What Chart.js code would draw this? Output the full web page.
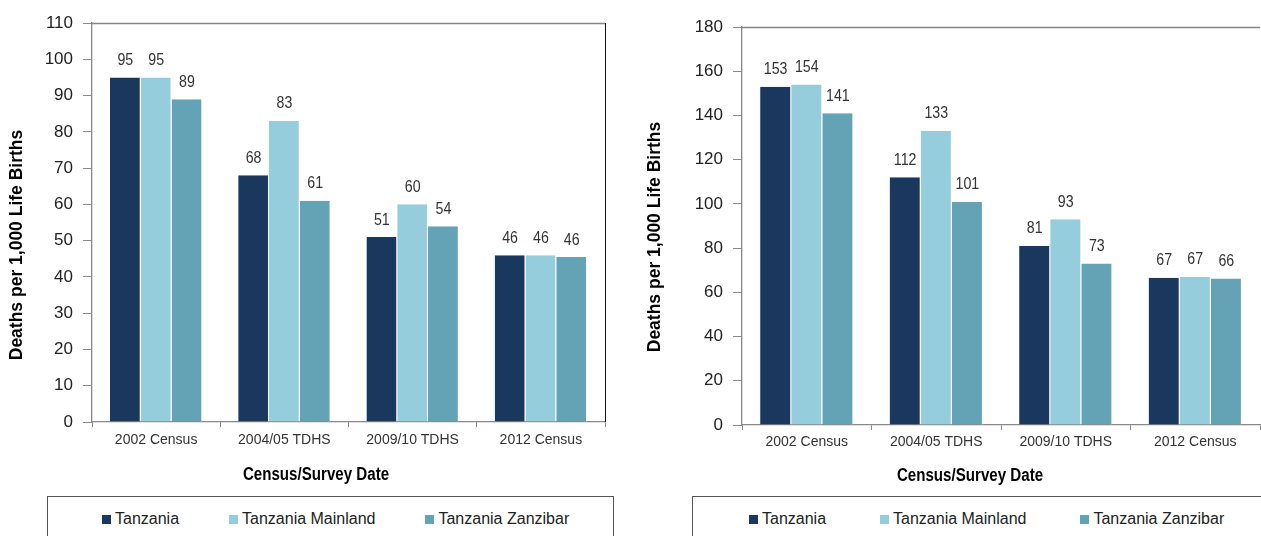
<!DOCTYPE html>
<html><head><meta charset="utf-8">
<script src="https://cdn.jsdelivr.net/npm/chart.js@4.4.1/dist/chart.umd.min.js"></script>
<style>
html,body{margin:0;padding:0;background:#fff;overflow:hidden;width:1261px;height:536px;}
#wrap{position:relative;width:1261px;height:536px;overflow:hidden;}
.cv{position:absolute;top:0;height:536px;}
.legend{position:absolute;box-sizing:border-box;border:1px solid #555;background:#fff;height:60px;display:flex;align-items:flex-start;}
.row{display:flex;align-items:center;height:44px;}
.item{display:flex;align-items:center;font-family:'Liberation Sans',Arial,sans-serif;font-size:16px;color:#222;white-space:nowrap;}
.sw{width:9px;height:9px;margin-right:4px;}
</style></head>
<body><div id="wrap">
<div class="cv" style="left:0;width:630px;"><canvas id="c1"></canvas></div>
<div class="cv" style="left:630px;width:631px;"><canvas id="c2"></canvas></div>
<div class="legend" id="lg1" style="left:47px;top:496px;width:567px;padding-left:54px;"><div class="row"></div></div>
<div class="legend" id="lg2" style="left:692px;top:496px;width:620px;padding-left:56px;"><div class="row"></div></div>
</div>
<script>
// ---- data ----
const categories = ['2002 Census', '2004/05 TDHS', '2009/10 TDHS', '2012 Census'];
const seriesNames = ['Tanzania', 'Tanzania Mainland', 'Tanzania Zanzibar'];
const leftTanzania = [95, 68, 51, 46];
const leftMainland = [95, 83, 60, 46];
const leftZanzibar = [89, 61, 54, 45.5];
const rightTanzania = [153, 112, 81, 66.6];
const rightMainland = [154, 133, 93, 67];
const rightZanzibar = [141, 101, 73, 66.2];
const leftTicks = {min: 0, max: 110, step: 10};
const rightTicks = {min: 0, max: 180, step: 20};
const yTitle = 'Deaths per 1,000 Life Births';
const xTitle = 'Census/Survey Date';

// ---- styles ----
const colors = ['#1a375e', '#95cddd', '#63a3b5'];
const SANS = "'Liberation Sans',Arial,sans-serif";

function condensedText(ctx, text, x, y, sx) {
  ctx.save();
  ctx.translate(x, y);
  ctx.scale(sx, 1);
  ctx.fillText(text, 0, 0);
  ctx.restore();
}

const dataLabels = {
  id: 'dataLabels',
  afterDatasetsDraw(chart) {
    const ctx = chart.ctx;
    ctx.save();
    ctx.font = '16.5px ' + SANS;
    ctx.fillStyle = '#333';
    ctx.textAlign = 'center';
    ctx.textBaseline = 'middle';
    chart.data.datasets.forEach((ds, i) => {
      chart.getDatasetMeta(i).data.forEach((bar, j) => {
        condensedText(ctx, String(Math.round(ds.data[j])), bar.x, bar.y - 17, 0.86);
      });
    });
    ctx.restore();
  }
};

const frameAndTitles = {
  id: 'frameAndTitles',
  afterDraw(chart, args, opts) {
    const ctx = chart.ctx, a = chart.chartArea;
    ctx.save();
    ctx.lineWidth = 1.3;
    ctx.strokeStyle = '#858585';
    ctx.beginPath(); ctx.moveTo(a.left, a.top + 0.5); ctx.lineTo(a.right, a.top + 0.5); ctx.stroke();
    if (opts.rightBorder) {
      ctx.strokeStyle = '#111';
      ctx.lineWidth = 1;
      ctx.beginPath(); ctx.moveTo(a.right + 0.5, a.top); ctx.lineTo(a.right + 0.5, a.bottom); ctx.stroke();
    }
    ctx.fillStyle = '#000';
    ctx.textAlign = 'center';
    ctx.textBaseline = 'middle';
    ctx.font = 'bold 17.5px ' + SANS;
    ctx.save();
    ctx.translate(opts.yPos[0], opts.yPos[1]);
    ctx.rotate(-Math.PI / 2);
    ctx.fillText(yTitle, 0, 0);
    ctx.restore();
    ctx.font = 'bold 18px ' + SANS;
    condensedText(ctx, xTitle, opts.xPos[0], opts.xPos[1], 0.84);
    ctx.restore();
  }
};

const htmlLegend = {
  id: 'htmlLegend',
  afterUpdate(chart, args, opts) {
    const row = document.querySelector('#' + opts.containerID + ' .row');
    row.innerHTML = '';
    const items = Chart.defaults.plugins.legend.labels.generateLabels(chart);
    items.forEach((it, k) => {
      const d = document.createElement('div');
      d.className = 'item';
      if (k > 0) d.style.marginLeft = opts.gap + 'px';
      const sw = document.createElement('span');
      sw.className = 'sw';
      sw.style.background = it.fillStyle;
      const t = document.createElement('span');
      t.textContent = it.text;
      d.appendChild(sw); d.appendChild(t);
      row.appendChild(d);
    });
  }
};

function makeChart(id, series, ticks, cfg) {
  return new Chart(document.getElementById(id), {
    type: 'bar',
    data: {
      labels: categories,
      datasets: series.map((d, i) => ({
        label: seriesNames[i],
        data: d,
        backgroundColor: colors[i],
        borderColor: '#ffffff',
        borderWidth: {top: 0, left: 0, bottom: 0, right: 1},
        borderSkipped: false,
        categoryPercentage: 0.72,
        barPercentage: 1
      }))
    },
    options: {
      responsive: true,
      maintainAspectRatio: false,
      animation: false,
      layout: {padding: cfg.padding},
      plugins: {
        legend: {display: false},
        tooltip: {enabled: false},
        frameAndTitles: {rightBorder: cfg.rightBorder, yPos: cfg.yPos, xPos: cfg.xPos},
        htmlLegend: {containerID: cfg.legendId, gap: cfg.legendGap}
      },
      scales: {
        x: {
          grid: {display: true, drawOnChartArea: false, drawTicks: true, tickLength: 5, offset: true, color: '#888'},
          border: {display: true, color: '#888', width: 1.3},
          ticks: {font: {family: SANS, size: 14}, color: '#333', padding: cfg.xPad, maxRotation: 0},
          afterFit: s => { s.height = cfg.xHeight; }
        },
        y: {
          min: ticks.min, max: ticks.max,
          grid: {display: true, drawOnChartArea: false, drawTicks: true, tickLength: 9, color: '#888'},
          border: {display: true, color: '#888', width: 1.3},
          ticks: {stepSize: ticks.step, font: {family: SANS, size: 17}, color: '#222', padding: 10},
          afterFit: s => { s.width = cfg.yWidth; }
        }
      }
    },
    plugins: [dataLabels, frameAndTitles, htmlLegend]
  });
}

makeChart('c1', [leftTanzania, leftMainland, leftZanzibar], leftTicks, {
  padding: {top: 23, right: 25, bottom: 0, left: 0},
  yWidth: 92, xHeight: 114, xPad: 5,
  rightBorder: true, yPos: [17, 245], xPos: [316, 475],
  legendId: 'lg1', legendGap: 50
});
makeChart('c2', [rightTanzania, rightMainland, rightZanzibar], rightTicks, {
  padding: {top: 27, right: 1, bottom: 0, left: 0},
  yWidth: 112, xHeight: 111, xPad: 4,
  rightBorder: false, yPos: [25, 237], xPos: [340, 476],
  legendId: 'lg2', legendGap: 54
});
</script>
</body></html>
